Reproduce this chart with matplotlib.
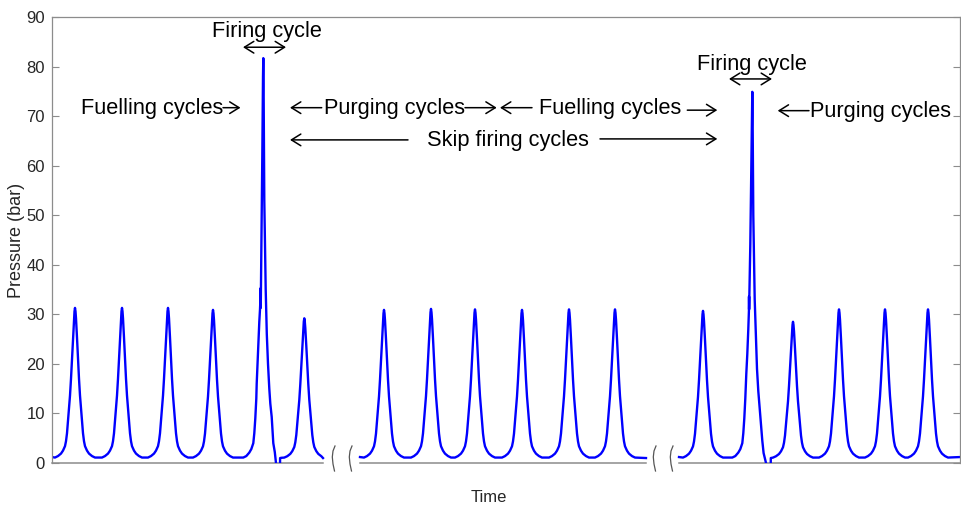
import matplotlib
matplotlib.use('Agg')
import matplotlib.pyplot as plt
import numpy as np
from matplotlib.lines import Line2D
from matplotlib.transforms import blended_transform_factory

plt.rcParams['font.family'] = ['Liberation Sans', 'DejaVu Sans']

# ---------------- data (time in ms, pressure in bar) ----------------
SEGMENTS = [(0, 271), (308, 594), (627, 908)]
SEG_START_P = [1.2, 1.2, 1.2]
SEG_END_P = [1.0, 1.0, 1.2]

# motoring (non-fired) cycle peaks per segment
MOTOR_T = [[23, 70, 116, 161, 252.3],
           [332, 379, 423, 470, 517, 563],
           [651, 741, 787, 833, 876]]
MOTOR_P = [[31.3, 31.3, 31.3, 30.9, 29.2],
           [30.9, 31.1, 31.0, 30.9, 31.0, 31.0],
           [30.7, 28.5, 31.0, 31.0, 31.0]]

# reference motoring pulse flank (offset from peak, pressure for a 31.3 bar peak)
PULSE_DT = [0, 0.5, 1, 1.5, 2, 3, 4, 5, 6, 7, 8, 9, 10, 12, 14, 17, 20]
PULSE_P = [31.3, 30.6, 29.2, 27.4, 25.3, 21.0, 17.0, 13.6, 11.0, 8.6, 6.0,
           4.4, 3.4, 2.5, 1.9, 1.4, 1.1]
PULSE_BASE = 1.0

# firing cycles: segment index, time of spike, trace around it
FIRE_SEG = [0, 2]
FIRE_T = [211.3, 700.3]
FIRE1_DT = [-20, -17, -14, -12, -10, -9, -8, -7, -6.6, -6, -5, -4, -3.3, -2.7,
            -2.6, -2.55, -2, -1, -0.3, 0, 0.3, 1, 2.4, 3.5, 4.7, 6, 7, 8.4,
            9.3, 10, 11.5, 12.7, 13, 16.7, 16.8, 18]
FIRE1_P = [1.1, 1.4, 2.1, 2.8, 4.0, 6.0, 9.0, 13.0, 16.0, 19.0, 24.0, 28.5,
           31.0, 34.0, 35.3, 31.3, 42.0, 62.0, 78.0, 81.7, 76.0, 53.0, 35.0,
           26.0, 20.0, 15.0, 12.0, 9.3, 6.5, 4.0, 2.2, 0.0, -0.6, -0.6, 1.0, 1.05]
FIRE2_DT = [-20, -17, -14, -12, -10, -9, -8, -7, -6, -5, -4, -3.35, -3.3,
            -3.2, -2, -1, -0.3, 0, 0.3, 1, 2.4, 4.7, 6, 8.4, 10, 11.3, 13.7,
            14, 18.4, 18.5, 20]
FIRE2_P = [1.1, 1.4, 2.1, 2.8, 4.0, 6.0, 9.0, 13.0, 18.0, 22.0, 27.0, 30.9,
           33.6, 31.0, 44.0, 60.0, 71.0, 74.9, 70.0, 50.0, 33.0, 19.0, 14.5,
           8.5, 4.5, 2.0, 0.0, -0.6, -0.6, 1.0, 1.05]
FIRE_DT = [FIRE1_DT, FIRE2_DT]
FIRE_P = [FIRE1_P, FIRE2_P]

YTICKS = list(range(0, 100, 10))

# ---------------- figure ----------------
W, H = 961, 508
fig = plt.figure(figsize=(W / 100, H / 100), dpi=100)
ax = fig.add_axes([52 / W, 45 / H, 908 / W, 446 / H])

spine_c = '#8c8c8c'
text_c = '#262626'
line_c = '#0000ff'

for si, (s0, s1) in enumerate(SEGMENTS):
    events = []
    for t, p in zip(MOTOR_T[si], MOTOR_P[si]):
        scale = (p - PULSE_BASE) / (PULSE_P[0] - PULSE_BASE)
        dts = [-d for d in PULSE_DT[::-1]] + PULSE_DT[1:]
        ps = PULSE_P[::-1] + PULSE_P[1:]
        ps = [PULSE_BASE + (v - PULSE_BASE) * scale for v in ps]
        events.append((t, dts, ps))
    for fs, ft, fdt, fp in zip(FIRE_SEG, FIRE_T, FIRE_DT, FIRE_P):
        if fs == si:
            events.append((ft, fdt, fp))
    events.sort(key=lambda e: e[0])
    xs = [s0]
    ys = [SEG_START_P[si]]
    for t, dts, ps in events:
        for d, v in zip(dts, ps):
            x = t + d
            if s0 < x < s1:
                xs.append(x)
                ys.append(v)
    xs.append(s1)
    ys.append(SEG_END_P[si])
    ax.plot(xs, ys, color=line_c, lw=1.7, solid_joinstyle='round')

ax.set_xlim(0, 908)
ax.set_ylim(0, 90)
ax.set_xticks([])
ax.set_yticks(YTICKS)
ax.tick_params(axis='y', direction='in', length=5, width=0.8, color=spine_c,
               labelsize=12, labelcolor=text_c, right=True, pad=5)
for side in ['left', 'right', 'top']:
    ax.spines[side].set_color(spine_c)
    ax.spines[side].set_linewidth(0.9)
ax.spines['bottom'].set_visible(False)

# broken bottom axis
for (s0, s1) in SEGMENTS:
    ax.plot([s0, s1], [0, 0], color=spine_c, lw=1.1, clip_on=False, zorder=1)

# break marks
bt = blended_transform_factory(ax.transData, ax.transAxes)
mark_dx = [2, 0, -0.7, 0, 1.5]
mark_dy = [17, 12, 6, -1, -8]
for i in range(len(SEGMENTS) - 1):
    g0 = SEGMENTS[i][1]
    g1 = SEGMENTS[i + 1][0]
    c = (g0 + g1) / 2
    for x0 in (c - 8.5, c + 8.5):
        ax.add_line(Line2D([x0 + d for d in mark_dx], [d / 446 for d in mark_dy],
                           transform=bt, color='#555555', lw=0.9, clip_on=False))

# labels
fig.text(489 / W, 1 - 497 / H, 'Time', ha='center', va='center',
         fontsize=12, color=text_c)
fig.text(17 / W, 1 - 240 / H, 'Pressure (bar)', ha='center', va='center',
         rotation=90, fontsize=13, color=text_c)

# annotations
fs = 15.7
tk = dict(fontsize=fs, color='black', va='baseline')
arr = dict(arrowstyle='->,head_length=0.45,head_width=0.28', color='black',
           lw=1.1, shrinkA=0, shrinkB=0, mutation_scale=15)
darr = dict(arr)
darr['arrowstyle'] = '<->,head_length=0.45,head_width=0.28'

ax.text(214.7, 86.0, 'Firing cycle', ha='center', **tk)
ax.annotate('', xy=(191, 83.9), xytext=(234, 83.9), arrowprops=darr)
ax.text(700, 79.4, 'Firing cycle', ha='center', **tk)
ax.annotate('', xy=(677, 77.5), xytext=(720, 77.5), arrowprops=darr)

ax.text(28.7, 70.4, 'Fuelling cycles', ha='left', **tk)
ax.annotate('', xy=(188.5, 71.7), xytext=(171, 71.7), arrowprops=arr)

ax.annotate('', xy=(238, 71.7), xytext=(269.7, 71.7), arrowprops=arr)
ax.text(272, 70.4, 'Purging cycles', ha='left', **tk)
ax.annotate('', xy=(444.7, 71.7), xytext=(413, 71.7), arrowprops=arr)
ax.annotate('', xy=(448, 71.7), xytext=(480, 71.7), arrowprops=arr)
ax.text(629.7, 70.4, 'Fuelling cycles', ha='right', **tk)
ax.annotate('', xy=(665.3, 71.2), xytext=(635.3, 71.2), arrowprops=arr)

ax.annotate('', xy=(725.7, 71.1), xytext=(757, 71.1), arrowprops=arr)
ax.text(758, 69.8, 'Purging cycles', ha='left', **tk)

ax.annotate('', xy=(238, 65.2), xytext=(356, 65.2), arrowprops=arr)
ax.text(374.7, 64.0, 'Skip firing cycles', ha='left', **tk)
ax.annotate('', xy=(665.3, 65.4), xytext=(548, 65.4), arrowprops=arr)

fig.savefig('out.png', dpi=100, facecolor='white')
